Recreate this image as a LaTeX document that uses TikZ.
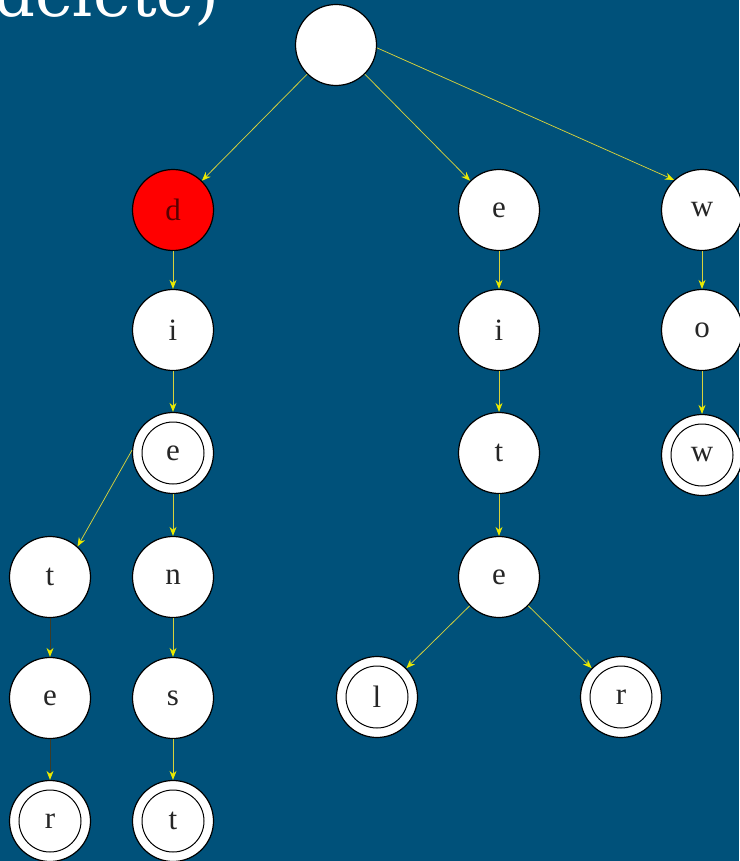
\documentclass[tikz,border=0pt]{standalone}
\usepackage{fontspec}
\setmainfont{Liberation Serif}
\newfontfamily\titlefont{DejaVu Serif}
\usetikzlibrary{arrows.meta}
\definecolor{bgblue}{RGB}{0,81,122}
\definecolor{edgeyellow}{RGB}{215,210,60}
\definecolor{tipyellow}{RGB}{235,235,0}
\definecolor{edgedark}{RGB}{60,60,40}
\tikzset{
  state/.style={circle, draw=black, fill=white, line width=1.2pt, minimum size=81pt, inner sep=0pt,
    font=\fontsize{31}{31}\selectfont, text=black!85},
  accept/.style={state, path picture={\draw[line width=1pt] (path picture bounding box.center) circle (31pt);}},
  redstate/.style={state, fill=red, text=red!35!black},
  edge/.style={draw=edgeyellow, line width=0.75pt, -{Stealth[length=9pt,width=7pt,color=tipyellow,fill=tipyellow]}},
  darkedge/.style={edge, draw=edgedark}
}
\begin{document}
\begin{tikzpicture}[x=1pt,y=-1pt]
\fill[bgblue] (0,0) rectangle (739,861);
\useasboundingbox (0,0) rectangle (739,861);
\begin{scope}
\clip (0,0) rectangle (739,861);
\node[anchor=base east, inner sep=0pt, text=white, font=\titlefont\fontsize{64}{64}\selectfont] (title) at (220,17) {(delete)};
\end{scope}
% root
\node[state] (root) at (336,45) {};
% d branch
\node[redstate] (d1) at (173,210) {d};
\node[state] (i1) at (173,330) {i};
\node[accept] (e1) at (173,453) {e};
\node[state] (t1) at (50,577) {t};
\node[state] (n1) at (173,577) {n};
\node[state] (e2) at (50,698) {e};
\node[state] (s1) at (173,698) {s};
\node[accept] (r1) at (50,821) {r};
\node[accept] (t2) at (173,821) {t};
% e branch
\node[state] (e3) at (499,210) {e};
\node[state] (i2) at (499,330) {i};
\node[state] (t3) at (499,453) {t};
\node[state] (e4) at (499,577) {e};
\node[accept] (l1) at (377,697) {l};
\node[accept] (r2) at (621,697) {r};
% w branch
\node[state] (w1) at (702,210) {w};
\node[state] (o1) at (702,330) {o};
\node[accept] (w2) at (702,455) {w};
% edges
\draw[edge] (root) -- (d1);
\draw[edge] (root) -- (e3);
\draw[edge] (root.-4) -- (w1.133);
\draw[edge] (d1) -- (i1);
\draw[edge] (i1) -- (e1);
\draw[edge] (e1.176) -- (t1.48);
\draw[edge] (e1) -- (n1);
\draw[darkedge] (t1) -- (e2);
\draw[edge] (n1) -- (s1);
\draw[darkedge] (e2) -- (r1);
\draw[edge] (s1) -- (t2);
\draw[edge] (e3) -- (i2);
\draw[edge] (i2) -- (t3);
\draw[edge] (t3) -- (e4);
\draw[edge] (e4) -- (l1);
\draw[edge] (e4) -- (r2);
\draw[edge] (w1) -- (o1);
\draw[edge] (o1) -- (w2);
\end{tikzpicture}
\end{document}
